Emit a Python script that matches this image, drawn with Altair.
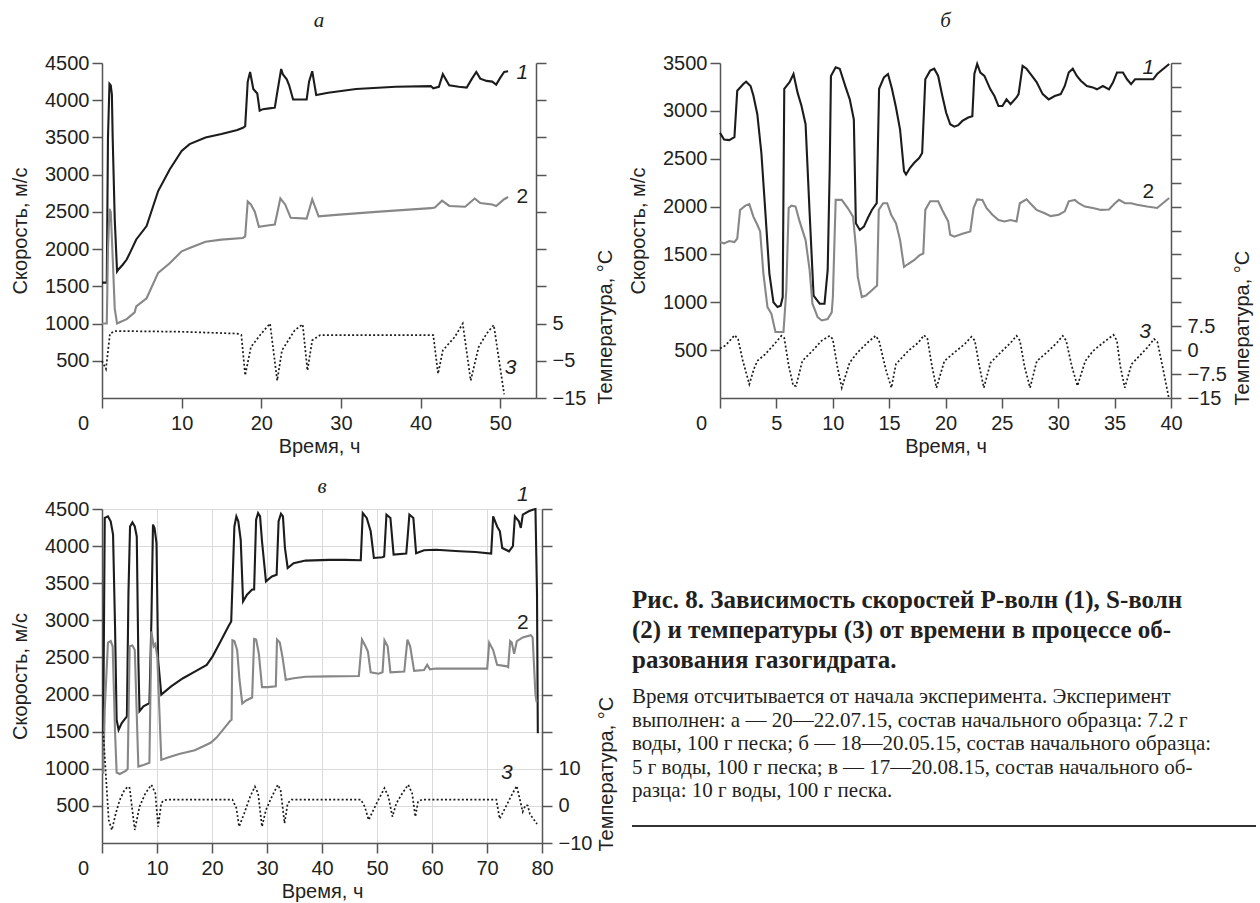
import altair as alt
import pandas as pd

# ---------------- Panel а ----------------
a_t_p = [0, 0.6, 0.75, 0.94, 1.1, 1.24, 1.34, 1.6, 1.89, 2.09, 2.6, 3.1, 3.6, 4.3, 5.6, 7.05, 8.5, 10.0, 11.0, 13.0,
         15.0, 17.0, 17.7, 17.98, 18.3, 18.6, 19.0, 19.5, 19.8, 20.2, 21.0, 21.7, 22.0, 22.5, 22.7, 23.2, 23.5, 24.0,
         25.7, 26.0, 26.4, 26.9, 28.4, 31.9, 36.9, 41.3, 41.6, 42.3, 42.8, 43.6, 44.8, 45.8, 46.4, 47.0, 47.5, 48.3,
         49.0, 49.5, 50.0, 50.5, 51.0]
a_v_p = [1550, 1550, 3500, 4220, 4200, 4080, 3500, 2400, 1700, 1730, 1790, 1860, 1970, 2130, 2310, 2780, 3070, 3320,
         3410, 3500, 3545, 3600, 3630, 3650, 4250, 4380, 4150, 4090, 3860, 3880, 3890, 3900, 4100, 4420, 4350, 4280,
         4200, 4010, 4010, 4250, 4390, 4070, 4100, 4150, 4180, 4190, 4160, 4180, 4350, 4200, 4180, 4170, 4280, 4380,
         4290, 4260, 4250, 4210, 4300, 4380, 4390]
a_t_s = [0, 0.6, 0.75, 0.94, 1.1, 1.3, 1.6, 1.89, 2.3, 3.1, 4.1, 4.3, 5.6, 7.05, 8.5, 10.0, 11.0, 13.0, 15.0, 17.7,
         17.98, 18.3, 18.7, 19.2, 19.7, 21.0, 21.7, 22.4, 23.0, 23.7, 25.7, 26.4, 27.2, 29.4, 34.4, 41.3, 41.8, 42.7,
         43.6, 45.6, 46.8, 47.5, 49.0, 49.5, 50.5, 51.0]
a_v_s = [1000, 1000, 2000, 2540, 2500, 2000, 1200, 1000, 1020, 1060, 1150, 1230, 1340, 1680, 1810, 1970, 2015, 2100,
         2127, 2150, 2170, 2640, 2600, 2500, 2300, 2320, 2330, 2680, 2600, 2420, 2410, 2670, 2440, 2460, 2500, 2550,
         2560, 2650, 2580, 2570, 2680, 2620, 2600, 2580, 2670, 2700]
a_t_T = [0, 0.5, 1.0, 1.6, 10.0, 17.0, 17.5, 17.98, 18.7, 20.0, 21.1, 22.0, 22.6, 24.2, 25.2, 25.8, 26.4, 27.4, 35.0,
         41.6, 42.2, 42.8, 44.3, 45.3, 46.3, 47.3, 48.3, 49.2, 50.5]
a_T = [-5, -7.2, 2.3, 3.0, 2.8, 2.3, 1.9, -8.9, -1.3, 2.3, 5.0, -10.3, -2.2, 3.2, 4.8, -7.6, 0.5, 1.9, 1.9, 1.9,
       -8.5, -2.2, 1.4, 5.0, -10.3, -1.3, 2.3, 4.6, -14.0]

# ---------------- Panel б ----------------
b_t_p = [0, 0.36, 0.82, 1.28, 1.53, 2.07, 2.32, 2.71, 2.96, 3.31,
         3.67, 4.03, 4.38, 4.74, 5.10, 5.38, 5.56, 5.70, 6.17, 6.52,
         6.88, 7.23, 7.59, 7.95, 8.30, 8.84, 9.27, 9.55, 9.73, 9.84,
         10.26, 10.62, 11.15, 11.51, 11.87, 12.05, 12.40, 12.76, 13.11, 13.47,
         13.90, 14.11, 14.54, 14.90, 15.25, 15.61, 15.97, 16.32, 16.50, 16.86,
         17.21, 17.68, 17.93, 18.21, 18.64, 19.00, 19.35, 19.71, 20.06, 20.42,
         20.78, 21.13, 21.49, 22.02, 22.38, 22.56, 22.81, 23.09, 23.45, 23.98,
         24.34, 24.70, 25.05, 25.41, 25.77, 26.30, 26.48, 26.84, 27.19, 27.55,
         28.08, 28.62, 29.15, 29.69, 30.22, 30.58, 30.93, 31.29, 31.65, 32.00,
         32.54, 33.07, 33.43, 33.96, 34.50, 34.85, 35.21, 35.74, 36.10, 36.46,
         36.81, 37.35, 38.42, 38.77, 39.84]
b_v_p = [2770, 2700, 2695, 2725, 3210, 3280, 3305, 3260, 3160, 2965,
         2560, 1930, 1300, 1000, 950, 965, 1055, 3230, 3300, 3385,
         3190, 3050, 2860, 1930, 1070, 985, 985, 1335, 2385, 3365,
         3455, 3440, 3245, 3120, 2910, 1825, 1755, 1790, 1880, 1965,
         2035, 3230, 3350, 3385, 3230, 3035, 2805, 2370, 2335, 2405,
         2455, 2510, 2560, 3330, 3420, 3440, 3365, 3160, 2980, 2860,
         2835, 2850, 2895, 2930, 2945, 3385, 3490, 3400, 3365, 3225,
         3155, 3050, 3050, 3120, 3070, 3140, 3175, 3470, 3440, 3385,
         3300, 3175, 3120, 3155, 3175, 3260, 3400, 3440, 3365, 3315,
         3260, 3245, 3225, 3260, 3225, 3295, 3400, 3400, 3330, 3280,
         3330, 3330, 3330, 3385, 3490]
b_t_s = [0, 0.36, 0.82, 1.28, 1.53, 1.78, 2.25, 2.60, 2.96, 3.31,
         3.56, 3.85, 4.21, 4.56, 4.92, 5.63, 5.88, 6.09, 6.34, 6.70,
         7.06, 7.59, 7.95, 8.20, 8.66, 9.02, 9.55, 9.91, 10.01, 10.26,
         10.80, 11.33, 11.80, 12.05, 12.22, 12.58, 12.94, 13.47, 13.93, 14.08,
         14.47, 14.83, 15.18, 15.61, 15.97, 16.32, 16.68, 17.21, 17.68, 18.03,
         18.21, 18.64, 19.35, 19.71, 20.24, 20.42, 20.78, 21.49, 22.20, 22.49,
         22.81, 23.27, 23.63, 24.16, 24.70, 25.23, 25.77, 26.30, 26.59, 27.19,
         27.55, 28.08, 28.80, 29.33, 30.04, 30.58, 30.93, 31.47, 31.82, 32.36,
         33.07, 33.79, 34.50, 35.03, 35.39, 35.92, 36.46, 36.99, 37.88, 38.77,
         39.84]
b_v_s = [1630, 1615, 1640, 1630, 1665, 1965, 2010, 2025, 1895, 1810,
         1740, 1300, 950, 880, 690, 690, 1125, 1985, 2010, 2000,
         1845, 1650, 1335, 985, 845, 810, 825, 895, 1055, 2070,
         2070, 1985, 1895, 1580, 1265, 1055, 1070, 1125, 1175, 1965,
         2035, 2035, 1915, 1825, 1650, 1370, 1400, 1440, 1490, 1510,
         1965, 2055, 2055, 1965, 1845, 1705, 1685, 1715, 1740, 1985,
         2075, 2070, 1985, 1915, 1860, 1845, 1860, 1845, 2035, 2075,
         2030, 1965, 1930, 1900, 1915, 1950, 2055, 2070, 2035, 2000,
         1985, 1965, 1970, 2035, 2070, 2035, 2035, 2020, 2000, 1985,
         2090]
b_t_T = [0, 0.5, 1.3, 1.6, 2.0, 2.6, 3.0, 3.3, 4.0, 4.7,
         5.45, 5.7, 6.1, 6.5, 6.75, 7.3, 8.2, 9.0, 9.73, 10.0,
         10.4, 10.8, 11.5, 12.2, 13.1, 13.8, 14.1, 14.7, 15.2, 15.6,
         16.7, 17.6, 18.1, 18.4, 18.8, 19.2, 19.9, 20.8, 21.7, 22.3,
         22.6, 23.0, 23.4, 24.0, 24.9, 25.8, 26.3, 26.6, 27.0, 27.5,
         28.1, 29.0, 29.9, 30.4, 30.7, 31.2, 31.7, 32.4, 33.1, 34.0,
         34.9, 35.2, 35.5, 35.9, 36.5, 37.2, 37.9, 38.5, 38.8, 39.3,
         39.8]
b_T = [0.5, 1.5, 4.7, 3.5, -3, -10.7, -6, -3.4, -1.3, 1.4,
       4.5, 3.8, -5, -11.2, -11.2, -3.4, -0.2, 2.9, 4.5, 3.5,
       -5, -11.8, -3.9, -0.7, 2.4, 4.5, 3.0, -6, -11.8, -4.4,
       -0.2, 2.4, 4.7, 3.5, -5, -11.8, -3.4, -0.7, 1.9, 4.2,
       3.0, -5, -11.8, -3.9, -0.7, 2.4, 4.5, 3.0, -5, -11.8,
       -3.4, -0.7, 2.4, 4.5, 3.0, -5, -11.2, -3.4, -0.2, 2.4,
       4.8, 3.0, -5, -11.8, -4.4, -1.8, 0.8, 3.5, 2.5, -6,
       -14.9]

# ---------------- Panel в ----------------
c_t_p = [0.22, 0.5, 1.08, 1.58, 2.01, 2.37, 2.66, 3.02, 3.59, 4.53,
         4.81, 5.10, 5.53, 5.96, 6.32, 6.61, 6.82, 7.54, 8.62, 8.98,
         9.27, 9.55, 9.91, 10.20, 10.78, 12.57, 14.73, 16.88, 19.04, 20.11,
         21.55, 22.99, 23.49, 23.71, 24.07, 24.43, 24.78, 25.22, 25.65, 26.37,
         27.30, 27.66, 28.02, 28.38, 28.74, 29.09, 29.81, 30.89, 31.75, 32.11,
         32.54, 32.90, 33.26, 33.76, 34.84, 37.0, 41.31, 44.18, 47.05, 47.41,
         48.13, 48.85, 49.43, 51.01, 51.3, 51.72, 52.44, 53.02, 55.32, 55.6,
         55.89, 56.61, 57.11, 58.55, 60.70, 65.01, 67.89, 70.76, 71.12, 71.84,
         72.34, 72.77, 74.0, 74.71, 75.07, 75.79, 76.15, 76.51, 77.59, 78.30,
         78.81, 79.09, 79.24]
c_v_p = [1500, 4380, 4400, 4335, 4155, 2920, 1660, 1525, 1615, 1705,
         3370, 4265, 4320, 4265, 4130, 2470, 1775, 1840, 1885, 2990,
         4290, 4245, 4040, 2470, 2000, 2110, 2220, 2310, 2400, 2515,
         2715, 2920, 2985, 3460, 4265, 4400, 4335, 4085, 3255, 3345,
         3415, 3415, 4355, 4445, 4400, 4065, 3525, 3590, 3615, 4335,
         4435, 4400, 3975, 3705, 3770, 3805, 3815, 3815, 3810, 4445,
         4380, 4200, 3840, 3850, 3860, 4425, 4380, 3885, 3900, 4150,
         4425, 4380, 3905, 3945, 3950, 3930, 3920, 3900, 4400, 4265,
         4200, 3975, 3930, 4000, 4400, 4335, 4245, 4425, 4470, 4490,
         4500, 3370, 1480]
c_t_s = [0.22, 0.5, 1.08, 1.58, 1.94, 2.37, 2.66, 3.23, 4.31, 4.67,
         5.03, 5.53, 5.96, 6.61, 7.54, 8.62, 8.98, 9.41, 9.70, 10.06,
         10.78, 11.85, 14.01, 16.88, 18.32, 19.76, 20.83, 22.27, 23.35, 23.56,
         23.71, 24.07, 24.57, 25.0, 25.50, 26.22, 27.30, 27.66, 28.02, 28.52,
         29.09, 30.17, 31.6, 31.82, 32.33, 32.83, 33.41, 34.84, 37.0, 41.31,
         46.70, 47.27, 47.92, 48.35, 48.85, 50.29, 51.01, 51.36, 51.94, 52.44,
         54.96, 55.53, 56.03, 56.75, 58.55, 59.12, 59.63, 60.70, 70.04, 70.40,
         71.12, 71.84, 73.64, 73.85, 74.21, 74.50, 74.93, 75.43, 76.51, 77.95,
         78.30, 78.81, 79.02]
c_v_s = [930, 1800, 2700, 2720, 2650, 1500, 950, 930, 970, 1000,
         2650, 2660, 2600, 1030, 1050, 1080, 2850, 2650, 2680, 2500,
         1120, 1150, 1200, 1250, 1300, 1350, 1420, 1550, 1650, 1660,
         2730, 2720, 2600, 2200, 1880, 1920, 1960, 2750, 2740, 2550,
         2100, 2100, 2110, 2740, 2700, 2500, 2200, 2220, 2240, 2245,
         2250, 2740, 2650, 2580, 2300, 2280, 2300, 2730, 2650, 2300,
         2310, 2740, 2650, 2320, 2330, 2400, 2340, 2350, 2350, 2700,
         2600, 2400, 2380, 2370, 2720, 2700, 2550, 2720, 2770, 2800,
         2770, 2000, 1900]
c_t_T = [0.22, 0.72, 1.22, 1.80, 2.51, 3.23, 3.95, 4.67, 5.03, 5.96,
         6.82, 7.90, 8.98, 9.70, 10.20, 10.78, 11.14, 11.85, 23.71, 24.43,
         24.93, 25.86, 26.94, 27.80, 28.38, 29.09, 29.81, 30.89, 31.97, 32.47,
         33.19, 33.76, 34.48, 47.05, 47.77, 48.49, 49.93, 51.36, 52.08, 52.80,
         53.52, 54.60, 55.68, 56.39, 56.97, 57.47, 58.19, 71.7, 72.3, 73.3,
         74.35, 75.4, 76.5, 77.0, 77.4, 77.8, 79.1]
c_T = [20.0, 7.9, -3.8, -6.5, -2.0, 1.6, 3.9, 5.2, 4.8, -6.5,
       -0.2, 3.4, 5.7, 3.4, -5.6, 0.7, 1.4, 1.7, 1.7, -0.6,
       -5.6, -2.0, 2.5, 5.2, 3.4, -5.6, -1.1, 2.5, 5.7, 4.3,
       -4.7, 0.7, 1.7, 1.7, -0.2, -3.8, 0.7, 4.8, 2.5, -2.9,
       0.7, 3.4, 5.7, 3.4, -2.9, 1.2, 1.7, 1.7, -3.5, -0.6,
       2.5, 5.4, -1.6, 0.2, 0.1, -2.2, -4.9]

# curve number labels (text, time, velocity)
a_lab_txt = ["1", "2", "3"]
a_lab_t = [52.8, 52.8, 51.3]
a_lab_v = [4366, 2700, 403]
b_lab_txt = ["1", "2", "3"]
b_lab_t = [38.0, 38.0, 37.7]
b_lab_v = [3451, 2149, 687]
c_lab_txt = ["1", "2", "3"]
c_lab_t = [76.5, 76.5, 73.6]
c_lab_v = [4689, 2964, 943]
lab_italic = [True, False, True]

# caption
cap_lines = [
    "Рис. 8. Зависимость скоростей P-волн (1), S-волн",
    "(2) и температуры (3) от времени в процессе об-",
    "разования газогидрата.",
    "Время отсчитывается от начала эксперимента. Эксперимент",
    "выполнен: а — 20—22.07.15, состав начального образца: 7.2 г",
    "воды, 100 г песка; б — 18—20.05.15, состав начального образца:",
    "5 г воды, 100 г песка; в — 17—20.08.15, состав начального об-",
    "разца: 10 г воды, 100 г песка.",
]
cap_pos = [91, 121, 151, 188, 212, 235, 259, 282]
cap_bold = [True, True, True, False, False, False, False, False]

BLACK = "#1c1c1c"
GRAY = "#878787"
TXT = "#231f20"


def panel(name, tp, vp, ts, vs, tT, TT, lab_txt, lab_t, lab_v,
          xmax, xticks, vmax, vticks, tdom, tticks, tlabmax,
          w, h, title_off, grid, rtx, rty):
    df_v = pd.concat([
        pd.DataFrame({"t": tp, "v": vp, "s": "1"}),
        pd.DataFrame({"t": ts, "v": vs, "s": "2"}),
    ])
    df_T = pd.DataFrame({"t": tT, "T": TT})
    df_l = pd.DataFrame({"txt": lab_txt, "t": lab_t, "v": lab_v, "it": lab_italic})

    xsc = alt.Scale(domain=[0, xmax], nice=False, zero=False)
    vsc = alt.Scale(domain=[0, vmax], nice=False)
    xaxis = alt.Axis(values=xticks, title="Время, ч", grid=grid, gridColor="#dadada", gridWidth=1,
                     labelPadding=5, titlePadding=3, format="d", labelFlush=False,
                     labelOffset={"condition": {"test": "datum.value == 0", "value": -19}, "value": 0})
    vaxis = alt.Axis(values=vticks, title="Скорость, м/с", format="d", grid=grid, gridColor="#dadada",
                     gridWidth=1, labelPadding=3, titlePadding=14)
    taxis = alt.Axis(orient="right", values=tticks, grid=False, labelPadding=6,
                     labelExpr=f"datum.value <= {tlabmax} ? format(datum.value, '') : ''",
                     title="Температура, °C", titleAngle=270, titleAlign="left", titleBaseline="middle",
                     titleX=rtx, titleY=rty)

    lines = alt.Chart(df_v).mark_line(strokeWidth=2.1).encode(
        x=alt.X("t:Q", scale=xsc, axis=xaxis),
        y=alt.Y("v:Q", scale=vsc, axis=vaxis),
        color=alt.Color("s:N", scale=alt.Scale(domain=["1", "2"], range=[BLACK, GRAY]), legend=None),
    )
    temp = alt.Chart(df_T).mark_line(strokeWidth=1.7, strokeDash=[2, 2.2], color=BLACK).encode(
        x=alt.X("t:Q", scale=xsc),
        y=alt.Y("T:Q", scale=alt.Scale(domain=tdom, nice=False, zero=False), axis=taxis),
    )
    lab_i = alt.Chart(df_l).transform_filter("datum.it").mark_text(
        font="Liberation Sans", fontSize=21, fontStyle="italic", color=TXT, baseline="middle", align="center"
    ).encode(
        x=alt.X("t:Q", scale=xsc),
        y=alt.Y("v:Q", scale=vsc, axis=None),
        text="txt:N",
    )
    lab_n = alt.Chart(df_l).transform_filter("!datum.it").mark_text(
        font="Liberation Sans", fontSize=21, color=TXT, baseline="middle", align="center"
    ).encode(
        x=alt.X("t:Q", scale=xsc),
        y=alt.Y("v:Q", scale=vsc, axis=None),
        text="txt:N",
    )
    return alt.layer(lines, temp, lab_i, lab_n).resolve_scale(y="independent").properties(
        width=w, height=h,
        title=alt.TitleParams(text=name, font="Liberation Serif", fontStyle="italic", fontSize=21,
                              fontWeight="normal", color=TXT, anchor="middle", frame="group", offset=title_off),
    )


pa = panel("а", a_t_p, a_v_p, a_t_s, a_v_s, a_t_T, a_T, a_lab_txt, a_lab_t, a_lab_v,
           54.5, [0, 10, 20, 30, 40, 50], 4500, [500, 1000, 1500, 2000, 2500, 3000, 3500, 4000, 4500],
           [-15, 75], [-15, -5, 5, 15, 25, 35, 45, 55, 65, 75], 5,
           434, 335, 22, False, 69, 341)
pb = panel("б", b_t_p, b_v_p, b_t_s, b_v_s, b_t_T, b_T, b_lab_txt, b_lab_t, b_lab_v,
           40, [0, 5, 10, 15, 20, 25, 30, 35, 40], 3500, [500, 1000, 1500, 2000, 2500, 3000, 3500],
           [-15, 90], [-15 + 7.5 * i for i in range(15)], 7.5,
           451, 335, 22, False, 71, 342)
pc = panel("в", c_t_p, c_v_p, c_t_s, c_v_s, c_t_T, c_T, c_lab_txt, c_lab_t, c_lab_v,
           80, [0, 10, 20, 30, 40, 50, 60, 70, 80], 4500, [500, 1000, 1500, 2000, 2500, 3000, 3500, 4000, 4500],
           [-10, 80], [-10, 0, 10, 20, 30, 40, 50, 60, 70, 80], 10,
           440, 334, -13, True, 64, 342)

df_cap = pd.DataFrame({"txt": cap_lines, "y": cap_pos, "b": cap_bold, "x": 0})
cx = alt.Scale(domain=[0, 625], range=[-88, 537], nice=False, zero=False)
cy = alt.Scale(domain=[0, 334], nice=False, zero=False, reverse=True)
cap_b = alt.Chart(df_cap).transform_filter("datum.b").mark_text(
    font="Liberation Serif", fontSize=25, fontWeight="bold", color=TXT, align="left", baseline="middle"
).encode(x=alt.X("x:Q", scale=cx, axis=None), y=alt.Y("y:Q", scale=cy, axis=None), text="txt:N")
cap_n = alt.Chart(df_cap).transform_filter("!datum.b").mark_text(
    font="Liberation Serif", fontSize=21, color=TXT, align="left", baseline="middle"
).encode(x=alt.X("x:Q", scale=cx, axis=None), y=alt.Y("y:Q", scale=cy, axis=None), text="txt:N")
cap_rule = alt.Chart(df_cap).mark_rule(color="#333333", strokeWidth=1).encode(
    x=alt.value(-88), x2=alt.value(536), y=alt.value(317))
caption = alt.layer(cap_b, cap_n, cap_rule).properties(width=451, height=334)

chart = alt.concat(pa, pb, pc, caption, columns=2, spacing={"row": 111, "column": 178},
                   bounds="flush", align="each").properties(
    autosize=alt.AutoSizeParams(type="none"),
    padding={"left": 102, "top": 63, "right": 1158, "bottom": 840},
).configure_view(stroke=None).configure_axis(
    labelFont="Liberation Sans", labelFontSize=20, labelColor=TXT,
    titleFont="Liberation Sans", titleFontSize=20, titleFontWeight="normal", titleColor=TXT,
    domainColor="#555555", domainWidth=1.5, tickColor="#555555", tickWidth=1.5, tickSize=10,
)

chart.save("out.html", embed_options={"renderer": "svg", "actions": False})
